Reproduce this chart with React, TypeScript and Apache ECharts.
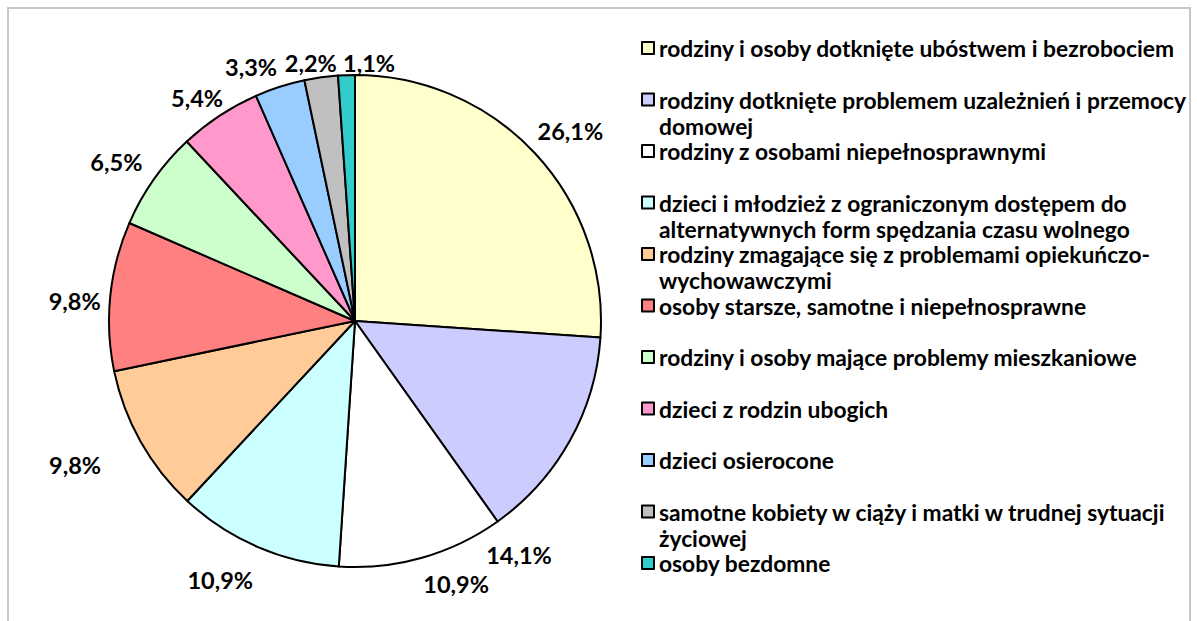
import React, { useEffect, useRef } from 'react';
import * as echarts from 'echarts';

// ---- data ----
const categories: string[] = [
  'rodziny i osoby dotknięte ubóstwem i bezrobociem',
  'rodziny dotknięte problemem uzależnień i przemocy domowej',
  'rodziny z osobami niepełnosprawnymi',
  'dzieci i młodzież z ograniczonym dostępem do alternatywnych form spędzania czasu wolnego',
  'rodziny zmagające się z problemami opiekuńczo-wychowawczymi',
  'osoby starsze, samotne i niepełnosprawne',
  'rodziny i osoby mające problemy mieszkaniowe',
  'dzieci z rodzin ubogich',
  'dzieci osierocone',
  'samotne kobiety w ciąży i matki w trudnej sytuacji życiowej',
  'osoby bezdomne',
];

// legend text as wrapped in the reference
const legendLabels: string[] = [
  'rodziny i osoby dotknięte ubóstwem i bezrobociem',
  'rodziny dotknięte problemem uzależnień i przemocy\ndomowej',
  'rodziny z osobami niepełnosprawnymi',
  'dzieci i młodzież z ograniczonym dostępem do\nalternatywnych form spędzania czasu wolnego',
  'rodziny zmagające się z problemami opiekuńczo-\nwychowawczymi',
  'osoby starsze, samotne i niepełnosprawne',
  'rodziny i osoby mające problemy mieszkaniowe',
  'dzieci z rodzin ubogich',
  'dzieci osierocone',
  'samotne kobiety w ciąży i matki w trudnej sytuacji\nżyciowej',
  'osoby bezdomne',
];

const values: number[] = [26.1, 14.1, 10.9, 10.9, 9.8, 9.8, 6.5, 5.4, 3.3, 2.2, 1.1];

// ---- styles / layout ----
const colors: string[] = [
  '#FFFFCC', '#CCCCFF', '#FFFFFF', '#CCFFFF', '#FFCC99', '#FF8080',
  '#CCFFCC', '#FF99CC', '#99CCFF', '#C0C0C0', '#33CCCC',
];
// label placement nudges (degrees along the arc, px beyond the rim)
const labelAngleShift: number[] = [1.7, 25.8, -5.2, 4.1, 2.1, -1.8, -1.4, -1.9, -4.5, -1.8, 5.1];
const labelOffset: number[] = [41, 40, 36, 46, 69, 35, 41, 27, 28, 16, 12];

const FONT = 'Lato';
const LEGEND_FONT_SIZE = 22.8;
const LABEL_FONT_SIZE = 23.5;
const CX = 355;
const CY = 321;
const PIE_R = 246;
const LEGEND_LEFT = 641;
const LEGEND_Y0 = 48;
const LEGEND_STEP = 51.5;
const LINE_H = 26;

export default function App() {
  const ref = useRef<HTMLDivElement>(null);

  useEffect(() => {
    if (!ref.current) return;
    const chart = echarts.init(ref.current, null, { renderer: 'svg' });

    const total = values.reduce((a, b) => a + b, 0);
    const starts: number[] = [];
    let acc = 0;
    values.forEach((v) => {
      starts.push(acc);
      acc += v;
    });

    const legends = categories.map((name, i) => {
      const twoLines = legendLabels[i].indexOf('\n') >= 0;
      const yc = LEGEND_Y0 + LEGEND_STEP * i;
      const top = twoLines ? yc - 39 : yc - 13;
      // for wrapped entries, an empty leading line keeps the marker on the first text line
      const shown = twoLines ? '\n' + legendLabels[i] : legendLabels[i];
      return {
        show: true,
        orient: 'vertical',
        left: LEGEND_LEFT,
        top,
        padding: 0,
        itemWidth: 12,
        itemHeight: 12,
        itemGap: 0,
        selectedMode: false,
        icon: 'rect',
        data: [name],
        formatter: () => shown,
        textStyle: {
          fontFamily: FONT,
          fontSize: LEGEND_FONT_SIZE,
          fontWeight: 'bold',
          color: '#000',
          lineHeight: LINE_H,
        },
      };
    });

    chart.setOption({
      animation: false,
      backgroundColor: '#ffffff',
      graphic: [
        {
          type: 'rect',
          silent: true,
          z: -10,
          shape: { x: 8, y: 8, width: 1182, height: 700 },
          style: { fill: 'none', stroke: '#c8c8c8', lineWidth: 2 },
        },
      ],
      legend: legends,
      series: [
        {
          type: 'pie',
          center: [CX, CY],
          radius: PIE_R,
          startAngle: 90,
          clockwise: true,
          avoidLabelOverlap: false,
          silent: true,
          data: categories.map((name, i) => ({
            name,
            value: values[i],
            itemStyle: { color: colors[i] },
          })),
          itemStyle: { borderColor: '#000', borderWidth: 2 },
          label: {
            show: true,
            position: 'outside',
            formatter: (p: any) => p.value.toFixed(1).replace('.', ',') + '%',
            fontFamily: FONT,
            fontSize: LABEL_FONT_SIZE,
            fontWeight: 'bold',
            color: '#000',
          },
          labelLine: { show: false },
          labelLayout: (params: any) => {
            const i = params.dataIndex;
            const deg = ((starts[i] + values[i] / 2) / total) * 360 + labelAngleShift[i];
            const rad = (deg * Math.PI) / 180;
            const d = PIE_R + labelOffset[i];
            return {
              x: CX + d * Math.sin(rad),
              y: CY - d * Math.cos(rad),
              align: 'center',
              verticalAlign: 'middle',
            };
          },
          emphasis: { disabled: true },
        },
      ],
    });

    return () => chart.dispose();
  }, []);

  return (
    <div
      ref={ref}
      style={{ position: 'fixed', left: 0, top: 0, width: 1197, height: 621, background: '#fff' }}
    />
  );
}
